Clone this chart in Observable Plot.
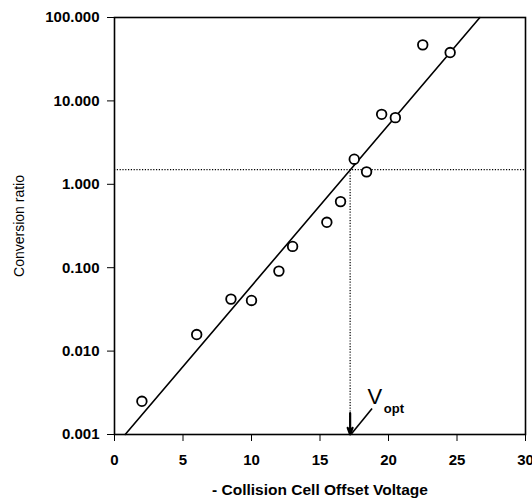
<!DOCTYPE html>
<html>
<head>
<meta charset="utf-8">
<script src="https://cdn.jsdelivr.net/npm/d3@7"></script>
<script src="https://cdn.jsdelivr.net/npm/@observablehq/plot@0.6"></script>
<style>
  html, body { margin: 0; padding: 0; background: #fff; }
  #chart { width: 532px; height: 498px; }
</style>
</head>
<body>
<div id="chart"></div>
<script>
// Measured points: -Collision Cell Offset Voltage vs Conversion ratio
const voltage = [2, 6, 8.5, 10, 12, 13, 15.5, 16.5, 17.5, 18.4, 19.5, 20.5, 22.5, 24.5];
const ratio   = [0.0025, 0.0158, 0.042, 0.0405, 0.091, 0.18, 0.35, 0.62, 2.0, 1.41, 6.9, 6.3, 47, 38];

// Fitted line end points
const fitVoltage = [0.78, 26.67];
const fitRatio   = [0.001, 100];

// Optimum
const vOpt = 17.2;
const ratioOpt = 1.5;

const xTicks = [0, 5, 10, 15, 20, 25, 30];
const yTicks = [0.001, 0.01, 0.1, 1, 10, 100];

const points = voltage.map((v, i) => ({v, r: ratio[i]}));
const fit = fitVoltage.map((v, i) => ({v, r: fitRatio[i]}));

const font = "'Liberation Sans', Arial, Helvetica, sans-serif";

const chart = Plot.plot({
  width: 532,
  height: 498,
  marginLeft: 114,
  marginRight: 7,
  marginTop: 17,
  marginBottom: 64,
  style: {fontFamily: font, fontSize: "14px", fontWeight: "bold", color: "#000", background: "#fff"},
  x: {domain: [0, 30], ticks: xTicks, tickFormat: d3.format("d")},
  y: {type: "log", domain: [0.001, 100], ticks: yTicks, tickFormat: d3.format(".3f")},
  marks: [
    Plot.axisX({ticks: xTicks, tickFormat: d3.format("d"), tickSize: 7, tickPadding: 13, fontSize: 15, label: null}),
    Plot.axisY({ticks: yTicks, tickFormat: d3.format(".3f"), tickSize: 7, tickPadding: 8, fontSize: 15, label: null}),
    Plot.axisX({ticks: [], tickSize: 0, label: "- Collision Cell Offset Voltage", labelAnchor: "center", labelArrow: "none", labelOffset: 60, fontSize: 15.5}),
    Plot.axisY({ticks: [], tickSize: 0, label: "Conversion ratio", labelAnchor: "center", labelArrow: "none", labelOffset: 100, fontSize: 14, fontWeight: "normal"}),
    Plot.ruleY([ratioOpt], {x1: 0, x2: 30, stroke: "#000", strokeWidth: 1.2, strokeDasharray: "1.2,1.6"}),
    Plot.ruleX([vOpt], {y1: 0.001, y2: ratioOpt, stroke: "#000", strokeWidth: 1.2, strokeDasharray: "1.2,1.6"}),
    Plot.line(fit, {x: "v", y: "r", stroke: "#000", strokeWidth: 1.6}),
    Plot.arrow([{x: vOpt}], {x1: "x", x2: "x", y1: 0.0018, y2: 0.001, stroke: "#000", strokeWidth: 2.2, headLength: 16, headAngle: 40}),
    Plot.link([{x1: vOpt + 0.1, y1: 0.00102, x2: 18.8, y2: 0.00205}], {x1: "x1", y1: "y1", x2: "x2", y2: "y2", stroke: "#000", strokeWidth: 1.6}),
    Plot.text([{x: 19.0, y: 0.0028}], {x: "x", y: "y", text: () => "V", fontSize: 22, fontWeight: "normal", fill: "#000"}),
    Plot.text([{x: 20.4, y: 0.00205}], {x: "x", y: "y", text: () => "opt", fontSize: 13, fontWeight: "bold", fill: "#000"}),
    Plot.dot(points, {x: "v", y: "r", r: 4.8, stroke: "#000", strokeWidth: 1.8, fill: "#fff"}),
    Plot.frame({stroke: "#000", strokeWidth: 1.6})
  ]
});
document.getElementById("chart").appendChild(chart);
</script>
</body>
</html>
